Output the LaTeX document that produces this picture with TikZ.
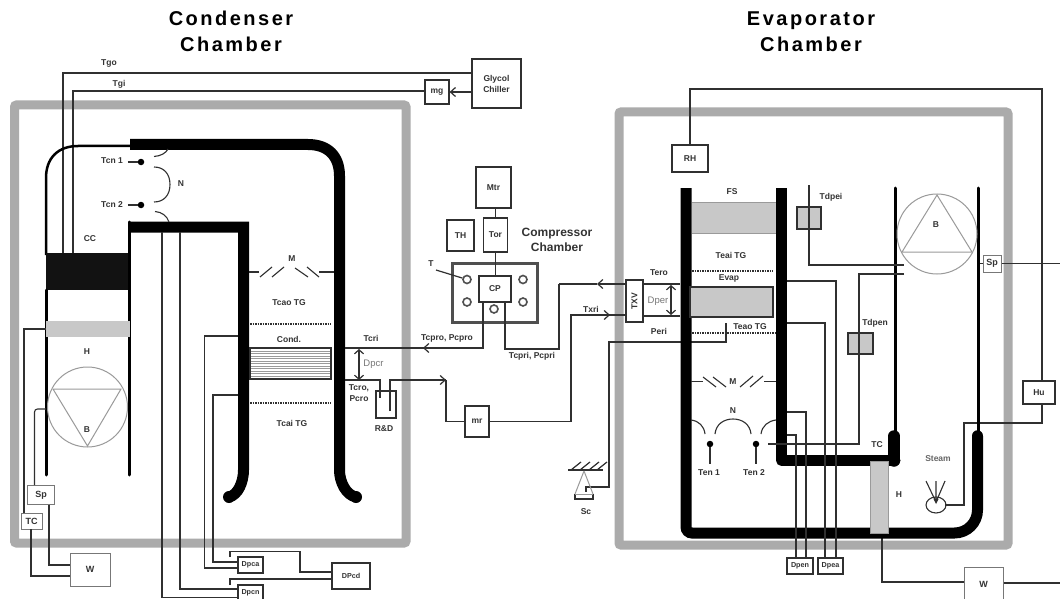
\documentclass[tikz,border=0pt]{standalone}
\usepackage{fontspec}
\setmainfont{Liberation Sans}
\usetikzlibrary{arrows.meta}
\definecolor{ink}{HTML}{303030}
\definecolor{txt}{HTML}{333333}
\definecolor{frameg}{HTML}{ABABAB}
\definecolor{fillg}{HTML}{C8C8C8}
\definecolor{lineg}{HTML}{9A9A9A}
\definecolor{softg}{HTML}{777777}
\newcommand{\tracked}[1]{\addfontfeatures{LetterSpace=12.5}#1}
\tikzset{
  x=1pt,y=-1pt,
  wire/.style={draw=ink,line width=1.1pt},
  wall/.style={draw=black,line width=11pt},
  thinwall/.style={draw=black,line width=3pt},
  chamber/.style={draw=frameg,line width=9pt,rounded corners=2pt},
  boxn/.style={draw=ink,line width=1.2pt,fill=white,inner sep=0,text=txt,font=\fontsize{8.5}{10}\selectfont\bfseries},
  softbox/.style={draw=softg,line width=1pt,fill=white,inner sep=0,text=txt,font=\fontsize{9}{10}\selectfont\bfseries},
  lab/.style={inner sep=0,text=txt,font=\fontsize{8.5}{9}\selectfont\bfseries},
  smallb/.style={boxn,font=\fontsize{7.2}{8}\selectfont\bfseries},
  glab/.style={inner sep=0,text=softg,font=\fontsize{9.5}{10}\selectfont},
  title/.style={inner sep=0,text=black,align=center,font=\fontsize{20}{26}\selectfont\bfseries},
  fan/.style={draw=lineg,line width=1pt},
  openhead/.style={-{Straight Barb[length=5pt,width=9pt,line width=1.2pt]}},
  dblhead/.style={{Straight Barb[length=4pt,width=9pt,line width=1.2pt]}-{Straight Barb[length=4pt,width=9pt,line width=1.2pt]}},
  dotted line/.style={draw=ink,line width=1.2pt,dash pattern=on 1.5pt off 1pt},
  dotn/.style={circle,fill=black,inner sep=0,minimum size=6.5pt},
  port/.style={circle,draw=ink!85,line width=1.6pt,inner sep=0,minimum size=8pt,fill=white},
}
\begin{document}
\begin{tikzpicture}
\useasboundingbox (0,0) rectangle (1060,599);
\fill[white] (0,0) rectangle (1060,599);

% titles
\node[title] (t1) at (231,31) {\tracked{Condenser}\\\tracked{Chamber}};
\node[title] (t2) at (811,31.5) {\tracked{Evaporator}\\\tracked{Chamber}};

% chamber frames
\draw[chamber] (14.5,105) -- (406,105) -- (406,543) -- (14.5,543) -- cycle;
\draw[chamber] (619,112) -- (1008,112) -- (1008,545) -- (619,545) -- cycle;

% ---------- condenser side ------------
\node[boxn,minimum width=49pt,minimum height=49pt,align=center,font=\fontsize{8.5}{11}\selectfont\bfseries] (glycol) at (496.5,83.5) {Glycol\\Chiller};
\node[boxn,minimum width=24pt,minimum height=24pt] (mg) at (437,92) {mg};
\draw[wire] (73,253) -- (73,91) -- (mg.west |- 0,91);
\draw[wire] (63,253) -- (63,73) -- (glycol.west |- 0,73);
\draw[wire,openhead] (glycol.west |- 0,92) -- (mg.east);
\node[lab] (tgo) at (109,63) {Tgo};
\node[lab] (tgi) at (119,84) {Tgi};

% condenser duct
\draw[line width=2.5pt,black] (132,146) -- (78,146) .. controls (58,146) and (46,158) .. (46,178) -- (46,255);
\draw[wall,line cap=butt] (130,144.5) -- (308,144.5) .. controls (328,144.5) and (339.5,156) .. (339.5,176) -- (339.5,470)
  .. controls (339.5,482) and (346,495) .. (356,497);
\fill[black] (356,497) circle (6pt);
\draw[wall] (130,227) -- (243.5,227) -- (243.5,470) .. controls (243.5,482) and (238,495) .. (229,497);
\fill[black] (229,497) circle (6pt);
\fill[black!93] (46,253) rectangle (130,290);
\draw[thinwall,line cap=round] (46,290) -- (46,475);
\draw[thinwall,line cap=round] (129.5,222) -- (129.5,475);
\fill[fillg] (46,321) rectangle (129.5,337);

\node[lab] (cc) at (90,239) {CC};
\node[lab] (h1) at (87,352) {H};
\draw[fan] (87.5,407) circle (40pt);
\draw[fan] (53,389) -- (121,389) -- (87.5,446) -- cycle;
\node[lab] (b1) at (87,430) {B};

% nozzles
\node[dotn] (tcn1) at (141,162) {};
\node[dotn] (tcn2) at (141,205) {};
\node[lab] (ltcn1) at (112,161) {Tcn 1};
\node[lab] (ltcn2) at (112,205) {Tcn 2};
\draw[wire] (ltcn1.east) ++(5,1) -- (tcn1);
\draw[wire] (ltcn2.east) ++(5,0) -- (tcn2);
\draw[wire] (154,156.5) .. controls (161,156) and (166,153) .. (168,149);
\draw[wire] (154,167) .. controls (164,167) and (170,174) .. (170,184.5) .. controls (170,195) and (164,202) .. (154,202);
\draw[wire] (155,211.5) .. controls (162,212) and (167,216) .. (169,222);
\node[lab] (n1) at (181,184) {N};

% mixers
\node[lab] (m1) at (292,259) {M};
\draw[wire] (249,272) -- (259,272);
\draw[wire] (260,277) -- (272,267) (272,277) -- (284,267) (295,268) -- (308,277) (307,267) -- (319,277);
\draw[wire] (319,272) -- (334,272);
\node[lab] (tcao) at (289,303) {Tcao TG};
\draw[dotted line] (250,324) -- (331,324);
\draw[dotted line] (250,403) -- (331,403);
\node[lab] (tcai) at (292,423) {Tcai TG};
\node[lab] (cond) at (289,339) {Cond.};

% condenser coil
\node[draw=ink,line width=1.2pt,fill=white,minimum width=81pt,minimum height=31pt,inner sep=0] (coil) at (290.5,363.5) {};
\foreach \yy in {351,353.5,...,377} \draw[lineg,line width=0.6pt] (251,\yy) -- (330,\yy);

% Dp lines
\node[smallb,minimum width=25pt,minimum height=16pt] (dpca) at (250.5,565) {Dpca};
\node[smallb,minimum width=25pt,minimum height=15pt] (dpcn) at (250.5,592.5) {Dpcn};
\node[smallb,minimum width=38pt,minimum height=26pt] (dpcd) at (351,576) {DPcd};
\draw[wire] (162,232) -- (162,597.5) -- (dpcn.west |- 0,597.5);
\draw[wire] (180,232) -- (180,589) -- (dpcn.west |- 0,589);
\draw[wire] (238,336) -- (204.5,336) -- (204.5,568) -- (dpca.west |- 0,568);
\draw[wire] (238,395) -- (213,395) -- (213,562) -- (dpca.west |- 0,562);
\draw[wire] (230,557) -- (230,551.5) -- (300,551.5) -- (300,572) -- (dpcd.west |- 0,572);
\draw[wire] (230,585) -- (230,579) -- (dpcd.west |- 0,579);

% controls left
\node[softbox,minimum width=27pt,minimum height=19pt] (sp1) at (41,495) {Sp};
\node[softbox,minimum width=21pt,minimum height=16pt] (tc1) at (31.5,521) {TC};
\node[softbox,minimum width=40pt,minimum height=33pt] (w1) at (90,569.5) {W};
\draw[wire] (46,329) -- (24,329) -- (24,513);
\draw[wire,rounded corners=3pt] (46,409) -- (34.5,409) -- (34.5,485);
\draw[wire] (49,504.5) -- (49,565) -- (w1.west |- 0,565);
\draw[wire] (31,529) -- (31,576) -- (w1.west |- 0,576);

% refrigerant, condenser out
\node[lab] (tcri) at (371,338) {Tcri};
\node[lab,align=center,font=\fontsize{8.5}{11}\selectfont\bfseries] (tcro) at (359,393) {Tcro,\\Pcro};
\node[glab] (dpcr) at (373.5,364) {Dpcr};
\draw[wire,dblhead] (359,349) -- (359,380);
\node[lab] (rd) at (384,429) {R\&D};
\draw[wire] (376,391) -- (376,418) -- (396,418) -- (396,391) -- cycle;
\draw[wire] (345,380) -- (380,380) -- (380,398);
\draw[wire] (390,411) -- (390,380) -- (446,380);
\draw[wire,openhead] (420,380) -- (446,380);

% ---------- compressor ------------
\node[draw=ink!85,line width=3.5pt,minimum width=85pt,minimum height=59pt,inner sep=0] (shell) at (495,293) {};
\node[boxn,minimum width=32pt,minimum height=26pt] (cp) at (495,289) {CP};
\node[boxn,minimum width=35pt,minimum height=41pt] (mtr) at (493.5,187.5) {Mtr};
\node[boxn,minimum width=24pt,minimum height=34pt] (tor) at (495.5,235) {Tor};
\node[boxn,minimum width=27pt,minimum height=31pt] (th) at (460.5,235.5) {TH};
\draw[wire] (mtr.south -| tor) -- (tor.north);
\draw[wire] (tor.south) -- (tor.south |- cp.north);
\node[lab,align=center,font=\fontsize{12}{15}\selectfont\bfseries] (cch) at (557,240) {Compressor\\Chamber};
\node[port] (p1) at (467,279.5) {};
\node[port] (p2) at (523,279.5) {};
\node[port] (p3) at (467,302) {};
\node[port] (p4) at (523,302) {};
\node[port] (p5) at (494,309) {};
\node[lab] (tl) at (431,264) {T};
\draw[wire,line width=1.2pt] (436,270) -- (p1);
\draw[wire] (345,348) -- (483,348) -- (483,302);
\draw[wire,openhead] (483,348) -- (423,348);
\node[lab] (tcpro) at (447,338) {Tcpro, Pcpro};
\draw[wire] (505,302) -- (505,349) -- (559,349) -- (559,284);
\node[lab] (tcpri) at (532,356) {Tcpri, Pcpri};
\node[boxn,minimum width=17pt,minimum height=42pt] (txv) at (634.5,301) {\rotatebox{90}{TXV}};
\draw[wire,openhead] (txv.west |- 0,284) -- (597,284);
\draw[wire] (597,284) -- (559,284);
\node[lab] (txri) at (591,309) {Txri};
\node[boxn,minimum width=24pt,minimum height=31pt] (mr) at (477,421.5) {mr};
\draw[wire] (446,380) -- (446,421.5) -- (mr.west);
\draw[wire] (mr.east) -- (571,421.5) -- (571,315) -- (txv.west |- 0,315);
\draw[wire,openhead] (590,315) -- (610,315);
\node[lab] (tero) at (659,273) {Tero};
\node[lab] (peri) at (659,331) {Peri};
\node[glab] (dper) at (658,301) {Dper};
\draw[wire] (txv.east |- 0,284) -- (680,284);
\draw[wire] (txv.east |- 0,316) -- (680,316);
\draw[wire,dblhead] (671,285) -- (671,315);

% scale
\draw[wire] (726,323) -- (726,342) -- (609,342) -- (609,487) -- (586,487) -- (586,492);
\draw[wire,line width=1.4pt] (568,470) -- (603,470);
\foreach \xx in {571,580,589,597} \draw[wire,line width=1.2pt] (\xx,470) -- (\xx+10,462);
\draw[fan] (584,471) -- (575,494) (584,471) -- (593,494);
\draw[wire] (575,494) -- (575,499) -- (593,499) -- (593,494);
\draw[fan] (575,494) -- (593,494);
\node[lab] (sc) at (586,512) {Sc};

% ---------- evaporator ------------
\node[boxn,minimum width=36pt,minimum height=27pt] (rh) at (690,158.5) {RH};
\node[boxn,minimum width=32pt,minimum height=23pt] (hu) at (1039,392.5) {Hu};
\node[softbox,minimum width=18pt,minimum height=17pt] (sp2) at (992,263.5) {Sp};
\node[softbox,minimum width=39pt,minimum height=33pt] (w2) at (983.5,584) {W};
\draw[wire] (rh.north) -- (690,89) -- (1042,89) -- (hu.north -| 1042,0);
\draw[wire] (1042,404) -- (1042,423) -- (964,423) -- (964,505) -- (945,505);
\draw[wire] (980,263.5) -- (sp2.west);
\draw[wire] (sp2.east) -- (1060,263.5);
\draw[wire] (882,533) -- (882,582) -- (w2.west |- 0,582);
\draw[wire] (w2.east |- 0,583) -- (1060,583);

% grey blocks and walls
\fill[fillg] (692,202) rectangle (776,233);
\draw[lineg,line width=0.5pt] (692,202) -- (776,202) (692,233) -- (776,233);
\draw[wall,rounded corners=6pt] (686,188) -- (686,533) [rounded corners=23pt] -- (977.5,533) -- (977.5,436);
\draw[wall,line cap=butt] (781.5,188) -- (781.5,460.5);
\draw[wall,line cap=round] (781.5,460.5) -- (895,460.5);
\draw[line width=11.5pt,line cap=round,black] (894,436) -- (894,461);
\draw[line width=11.5pt,line cap=round,black] (977.5,436) -- (977.5,470);
\draw[thinwall,line cap=round] (895,188) -- (895,431);
\draw[thinwall,line cap=round] (978.5,188) -- (978.5,431);
\node[draw=lineg,line width=0.5pt,fill=fillg,minimum width=18pt,minimum height=72pt,inner sep=0] (heat) at (879,497) {};
\node[lab] (h2) at (899,495) {H};
\node[lab] (tc2) at (877,445) {TC};
\node[lab] (fs) at (732,192) {FS};
\node[lab] (teai) at (731,255) {Teai TG};
\draw[dotted line] (692,271) -- (773,271);
\node[lab] (evap) at (729,278) {Evap};
\node[draw=ink,line width=1.1pt,fill=fillg,minimum width=83pt,minimum height=30pt,inner sep=0] (evb) at (731.5,302) {};
\node[lab] (teao) at (750,327) {Teao TG};
\draw[dotted line] (692,333) -- (776,333);
\node[draw=ink,line width=1.1pt,fill=fillg,minimum width=24pt,minimum height=22pt,inner sep=0] (tdi) at (809,218) {};
\node[draw=ink,line width=1.1pt,fill=fillg,minimum width=25pt,minimum height=21pt,inner sep=0] (tdn) at (860.5,343.5) {};
\node[lab] (ltdi) at (831,197) {Tdpei};
\node[lab] (ltdn) at (875,323) {Tdpen};
\draw[wire] (809,185) -- (809,265) -- (904,265);
\draw[wire] (904,274) -- (859,274) -- (859,444) -- (768,444);
\draw[fan] (937,234) circle (40pt);
\draw[fan] (937,195) -- (972,252) -- (902,252) -- cycle;
\node[lab] (b2) at (936,225) {B};

\node[smallb,minimum width=26pt,minimum height=16pt] (dpen) at (800,566) {Dpen};
\node[smallb,minimum width=25pt,minimum height=16pt] (dpea) at (830.5,566) {Dpea};
\draw[wire] (787,281) -- (836,281) -- (836,558);
\draw[wire] (787,323) -- (825,323) -- (825,558);
\draw[wire] (787,412) -- (806,412) -- (806,558);
\draw[wire] (787,435) -- (796,435) -- (796,558);

% evaporator mixers and nozzles
\node[lab] (m2) at (733,382) {M};
\draw[wire] (691,381.5) -- (703,381.5) (764,381.5) -- (776,381.5);
\draw[wire] (703,377) -- (716,387) (713,377) -- (726,387) (740,387) -- (753,376) (750,387) -- (763,376);
\node[lab] (n2) at (733,411) {N};
\draw[wire] (691,420) .. controls (699,421) and (704,426) .. (705,434);
\draw[wire] (715,434) .. controls (716,424) and (724,419) .. (733,419) .. controls (742,419) and (750,424) .. (751,434);
\draw[wire] (761,434) .. controls (762,426) and (768,421) .. (776,420);
\node[dotn] (ten1) at (710,444) {};
\node[dotn] (ten2) at (756,444) {};
\draw[wire] (ten1) -- (710,464);
\draw[wire] (ten2) -- (756,464);
\node[lab] (lten1) at (709,473) {Ten 1};
\node[lab] (lten2) at (754,473) {Ten 2};

% steam
\node[lab,text=black!60] (steam) at (938,458.5) {Steam};
\draw[wire,line width=1.1pt] (936,505) ellipse (10pt and 8pt);
\draw[wire] (936,502) -- (926,481) (936,502) -- (936,481) (936,502) -- (945,481);
\fill[ink] (933.5,499) -- (938.5,499) -- (936,504) -- cycle;
\end{tikzpicture}
\end{document}
